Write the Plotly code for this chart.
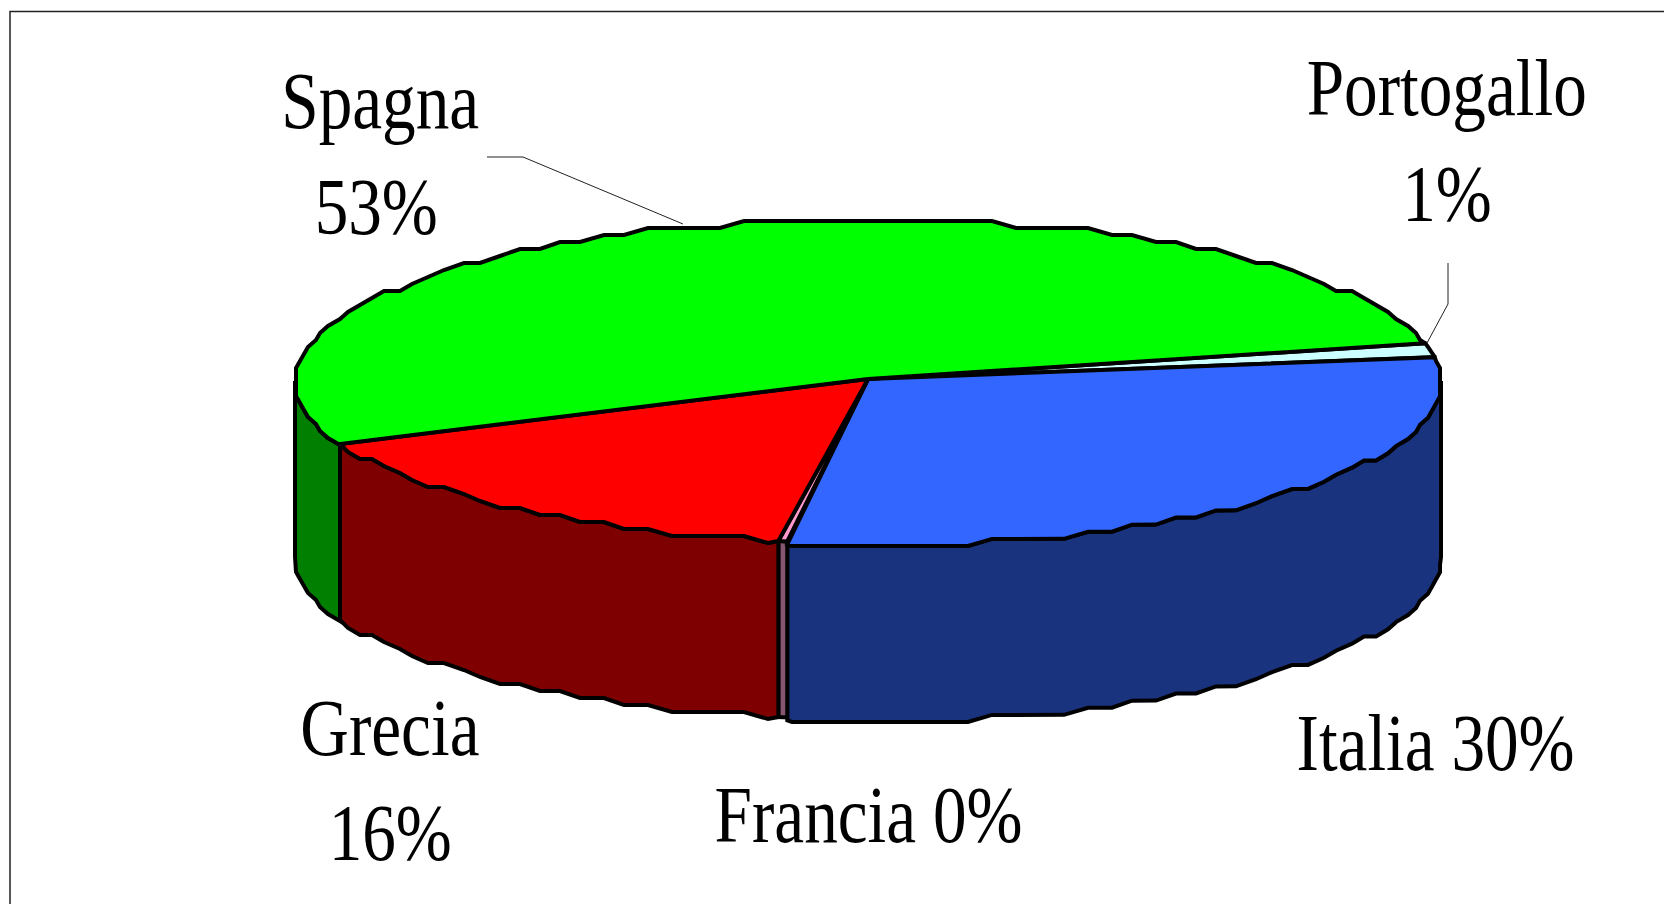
import numpy as np
import plotly.graph_objects as go

# Shares in percent, clockwise from the top-right slice edge
countries = ["Portogallo", "Italia", "Francia", "Grecia", "Spagna"]
shares = [1.4, 29.6, 0.25, 16.15, 52.6]

top_colors = ["#CCFFFF", "#3366FF", "#FF99CC", "#FF0000", "#00FF00"]
wall_colors = ["#667F7F", "#19337F", "#855670", "#7F0000", "#007F00"]

# Label layout: text lines with centre x and vertical middle, in canvas units
label_lines = {
    "Spagna": [("{name}", 380, 101), ("{pct}", 376, 207)],
    "Portogallo": [("{name}", 1447, 88), ("{pct}", 1447, 194)],
    "Italia": [("{name} {pct}", 1435, 743)],
    "Francia": [("{name} {pct}", 868, 815)],
    "Grecia": [("{name}", 390, 728), ("{pct}", 390, 833)],
}

# Leader lines for the two labels above the pie
leader_spagna_x, leader_spagna_y = [487, 523, 683], [157, 157, 224]
leader_porto_x, leader_porto_y = [1448, 1448, 1427], [263, 304, 343]

# Pie geometry in canvas units
CX, CY = 868, 381
APEX_Y = 379
RX, RY = 573, 162
DEPTH = 176
START_DEG = 13.5
RIM_DROP = {"Italia": 3}
GRID_X, GRID_Y = 4, 7
GRID_Y_OFFSET = 4
STEP_DEG = 2.5
OUTLINE = 4


def rim(t_from, t_to, drop=0):
    """Coarse polygon along the ellipse, snapped to a grid for the stepped outline."""
    # Stations sit on whole multiples of the step so adjacent slices share vertices
    inner = np.arange(np.ceil(t_to / STEP_DEG), np.floor(t_from / STEP_DEG) + 1)[::-1] * STEP_DEG
    inner = inner[(inner < t_from) & (inner > t_to)]
    t = np.radians(np.r_[t_from, inner, t_to])
    x = CX + RX * np.cos(t)
    y = CY - RY * np.sin(t)
    qx = np.round(x / GRID_X) * GRID_X
    qy = np.round((y - GRID_Y_OFFSET) / GRID_Y) * GRID_Y + GRID_Y_OFFSET
    qx[0], qx[-1] = x[0], x[-1]
    qy[0], qy[-1] = y[0], y[-1]
    return qx, qy + drop * np.clip(-np.sin(t), 0, 1)


fig = go.Figure()

edges = START_DEG - np.cumsum([0] + shares) * 360 / sum(shares)
spans = list(zip(edges[:-1], edges[1:]))

# Side walls: only the front half of the rim is visible
for name, (hi, lo), color in zip(countries, spans, wall_colors):
    a, b = min(hi, 0), max(lo, -180)
    if a <= b:
        continue
    x, y = rim(a, b, RIM_DROP.get(name, 0))
    fig.add_trace(go.Scatter(
        x=np.r_[x, x[::-1], x[0]],
        y=np.r_[y, (y + DEPTH)[::-1], y[0]],
        mode="lines", fill="toself", fillcolor=color,
        line=dict(color="black", width=OUTLINE),
    ))

# Top face of each slice
for name, (hi, lo), color in zip(countries, spans, top_colors):
    x, y = rim(hi, lo, RIM_DROP.get(name, 0))
    fig.add_trace(go.Scatter(
        x=np.r_[CX, x, CX],
        y=np.r_[APEX_Y, y, APEX_Y],
        mode="lines", fill="toself", fillcolor=color,
        line=dict(color="black", width=OUTLINE),
    ))

for lx, ly in ((leader_spagna_x, leader_spagna_y), (leader_porto_x, leader_porto_y)):
    fig.add_trace(go.Scatter(x=lx, y=ly, mode="lines", line=dict(color="#222222", width=1)))

annotations = []
for name, share in zip(countries, shares):
    pct = f"{round(share)}%"
    for template, x, y in label_lines[name]:
        annotations.append(dict(
            x=x, y=y, xref="x", yref="y",
            text=template.format(name=name, pct=pct),
            showarrow=False, xanchor="center", yanchor="middle",
            font=dict(family="Liberation Serif", size=81, color="black"),
        ))

fig.update_layout(
    width=1664, height=904,
    margin=dict(l=0, r=0, t=0, b=0),
    paper_bgcolor="white", plot_bgcolor="white",
    showlegend=False, hovermode=False,
    annotations=annotations,
    xaxis=dict(range=[0, 1664], visible=False, fixedrange=True),
    yaxis=dict(range=[904, 0], visible=False, fixedrange=True),
    shapes=[dict(type="rect", xref="x", yref="y", x0=10, y0=11.5, x1=1700, y1=950,
                 line=dict(color="#222222", width=1.5), layer="below")],
)

# The label face is a tall, narrow serif: squeeze each line horizontally about its centre
narrow_text = """
document.querySelectorAll('.annotation-text').forEach(function (t) {
  var b = t.getBBox();
  var c = b.x + b.width / 2;
  t.setAttribute('transform', 'translate(' + c + ' 0) scale(0.83 1) translate(' + (-c) + ' 0)');
});
"""

fig.write_html("out.html", post_script=narrow_text, config={"displayModeBar": False})
